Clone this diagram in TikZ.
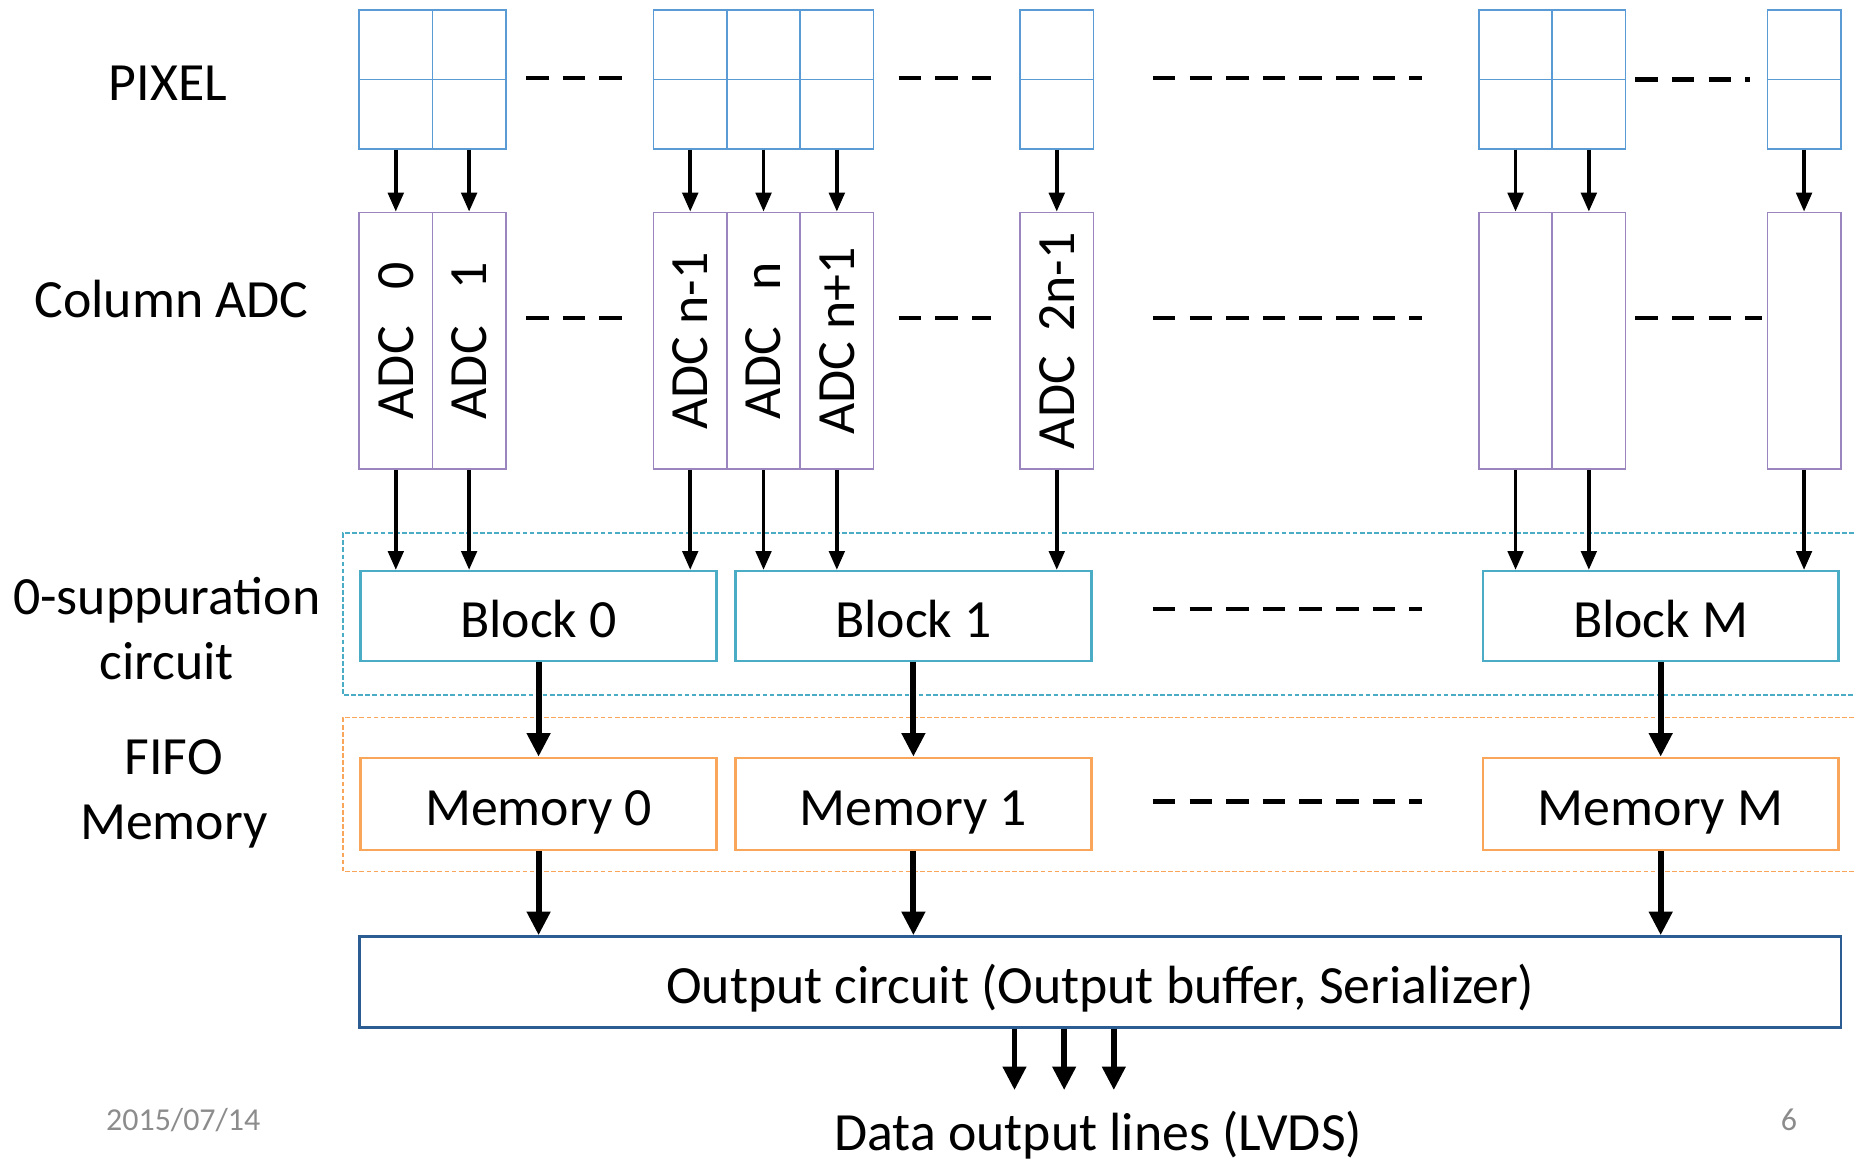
\documentclass[tikz,border=0pt]{standalone}
\usepackage{fontspec}
\setmainfont{Carlito}
\usetikzlibrary{arrows.meta}
\definecolor{pixblue}{HTML}{5B9BD5}
\definecolor{adcpurple}{HTML}{9B85BF}
\definecolor{blkcyan}{HTML}{4BACC6}
\definecolor{memorange}{HTML}{F9A55A}
\definecolor{outblue}{HTML}{2B5D93}
\definecolor{footgray}{HTML}{8C8C8C}
\tikzset{
  big/.style={font=\fontsize{45.5pt}{55pt}\selectfont},
  pixcol/.style={draw=pixblue, line width=1.5pt, minimum width=62pt, minimum height=117pt, inner sep=0pt, anchor=north west},
  adccol/.style={draw=adcpurple, line width=1.5pt, minimum width=62pt, minimum height=217pt, inner sep=0pt, anchor=north west},
  adctext/.style={big, rotate=90, inner sep=0pt},
  boxtext/.style={big, text height=41pt, text depth=5pt},
  blockbox/.style={draw=blkcyan, line width=2pt, minimum width=301pt, minimum height=76pt, inner sep=0pt, anchor=north west, boxtext},
  membox/.style={draw=memorange, line width=2pt, minimum width=301pt, minimum height=78pt, inner sep=0pt, anchor=north west, boxtext},
  outbox/.style={draw=outblue, line width=2pt, minimum width=1253pt, minimum height=77pt, inner sep=0pt, anchor=north west, boxtext},
  thinarrow/.style={line width=3.2pt, -{Triangle[length=16pt,width=13pt]}},
  thickarrow/.style={line width=5pt, -{Triangle[length=20pt,width=19pt]}},
  dashrun/.style={line width=4pt, dash pattern=on 19pt off 12pt},
  grpline/.style={line width=1.3pt, dash pattern=on 4pt off 2pt},
  sidelabel/.style={big, align=center, inner sep=0pt},
  foot/.style={font=\fontsize{27pt}{30pt}\selectfont, text=footgray, inner sep=0pt}
}
\begin{document}
\begin{tikzpicture}[x=1pt,y=-1pt]
\useasboundingbox (0,0) rectangle (1568,982);
% group outlines
\draw[grpline, draw=blkcyan] (1568,451) -- (290,451) -- (290,588) -- (1568,588);
\draw[grpline, draw=memorange] (1568,607) -- (290,607) -- (290,737) -- (1568,737);
% pixel columns
\foreach \n/\x in {p0/303, p1/365, p2/552, p3/614, p4/676, p5/862, p6/1250, p7/1312, p8/1494}{
  \node[pixcol] (\n) at (\x,8) {};
  \draw[pixblue, line width=1.5pt] (\n.west) -- (\n.east);
}
% ADC columns
\foreach \n/\x in {a0/303, a1/365, a2/552, a3/614, a4/676, a5/862, a6/1250, a7/1312, a8/1494}{
  \node[adccol] (\n) at (\x,179) {};
}
\node[adctext] (t0) at (a0.center) {ADC\ \ \ 0};
\node[adctext] (t1) at (a1.center) {ADC\ \ \ 1};
\node[adctext] (t2) at (a2.center) {ADC n-1};
\node[adctext] (t3) at (a3.center) {ADC\ \ \ n};
\node[adctext] (t4) at (a4.center) {ADC n+1};
\node[adctext] (t5) at (a5.center) {ADC\ \ 2n-1};
% pixel -> ADC arrows
\foreach \i in {0,...,8}{
  \draw[thinarrow] (p\i.south) -- (a\i.north);
}
% blocks and memories
\node[blockbox] (b0) at (304,482) {Block 0};
\node[blockbox] (b1) at (621,482) {Block 1};
\node[blockbox] (bm) at (1253,482) {Block M};
\node[membox] (m0) at (304,640) {Memory 0};
\node[membox] (m1) at (621,640) {Memory 1};
\node[membox] (mm) at (1253,640) {Memory M};
\node[outbox] (out) at (303,791) {Output circuit (Output buffer, Serializer)};
% ADC -> block arrows
\foreach \i/\b in {0/b0,1/b0,2/b0,3/b1,4/b1,5/b1,6/bm,7/bm,8/bm}{
  \draw[thinarrow] (a\i.south) -- (a\i.south |- \b.north);
}
% block -> memory -> output
\foreach \b/\m in {b0/m0, b1/m1, bm/mm}{
  \draw[thickarrow] (\b.south) -- (\m.north);
  \draw[thickarrow] (\m.south) -- (\m.south |- out.north);
}
% data output lines
\coordinate (d1) at (858,922);
\coordinate (d2) at (900,922);
\coordinate (d3) at (942,922);
\foreach \d in {d1,d2,d3}{
  \draw[thickarrow] (\d |- out.south) -- (\d);
}
\node[big, inner sep=0pt] (lvds) at (929,960) {Data output lines (LVDS)};
% dashed continuation marks
\draw[dashrun] (445,66) -- (527,66);
\draw[dashrun] (760,66) -- (838,66);
\draw[dashrun] (975,66) -- (1203,66);
\draw[dashrun] (1383,67) -- (1480,67);
\draw[dashrun] (445,269) -- (527,269);
\draw[dashrun] (760,269) -- (838,269);
\draw[dashrun] (975,269) -- (1203,269);
\draw[dashrun] (1383,269) -- (1490,269);
\draw[dashrun] (975,515) -- (1203,515);
\draw[dashrun] (975,678) -- (1203,678);
% side labels
\node[sidelabel] (lpix) at (142,70) {PIXEL};
\node[sidelabel] (ladc) at (145,253) {Column ADC};
\node[sidelabel] (lzs) at (141,532) {0-suppuration\\circuit};
\node[sidelabel] (lfifo) at (147,671) {FIFO\\Memory};
% footer
\node[foot] (date) at (155,947) {2015/07/14};
\node[foot] (page) at (1513,947) {6};
\end{tikzpicture}
\end{document}
